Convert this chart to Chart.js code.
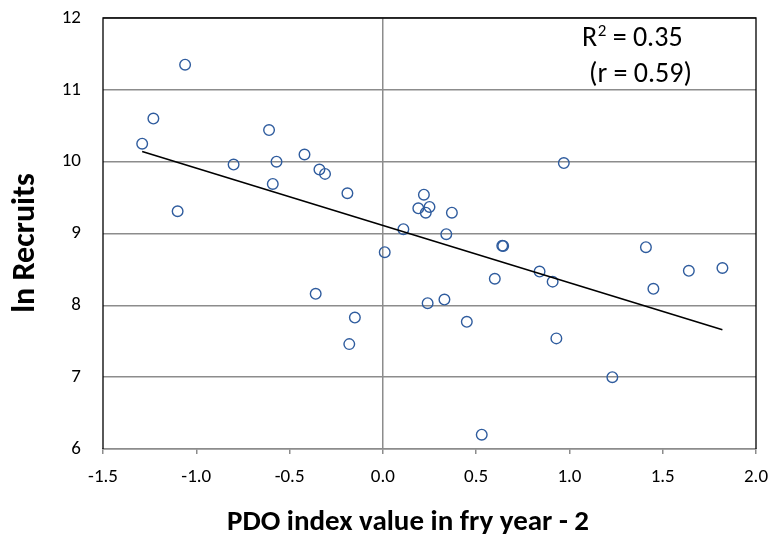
<!DOCTYPE html>
<html>
<head>
<meta charset="utf-8">
<script src="https://cdn.jsdelivr.net/npm/chart.js@4.4.0/dist/chart.umd.min.js"></script>
<style>
  body { margin: 0; background: #fff; }
  #wrap { width: 770px; height: 537px; }
</style>
</head>
<body>
<div id="wrap"><canvas id="pdoChart" width="770" height="537"></canvas></div>
<script>
// PDO index (fry year - 2) vs ln recruits
const pdoX = [-1.06, -1.23, -1.29, -0.61, -0.80, -0.57, -0.42, -0.34, -0.31, -0.59,
  -0.19, -1.10, 0.97, 0.22, 0.19, 0.25, 0.23, 0.37, 0.11, 0.34,
  0.01, -0.36, -0.15, -0.18, 0.64, 0.645, 1.41, 1.64, 1.82, 0.84,
  0.91, 0.60, 1.45, 0.24, 0.33, 0.45, 0.93, 1.23, 0.53];
const lnRecruits = [11.35, 10.60, 10.25, 10.44, 9.96, 10.00, 10.10, 9.89, 9.83, 9.69,
  9.56, 9.31, 9.98, 9.54, 9.35, 9.37, 9.29, 9.29, 9.06, 8.99,
  8.74, 8.16, 7.83, 7.46, 8.83, 8.825, 8.81, 8.48, 8.52, 8.47,
  8.33, 8.37, 8.23, 8.03, 8.08, 7.77, 7.54, 7.00, 6.20];

// fitted trend line ends
const trendX = [-1.29, 1.82];
const trendY = [10.14, 7.66];

const xTitle = 'PDO index value in fry year - 2';
const yTitle = 'ln Recruits';
const rSquared = '0.35';
const rValue = '0.59';

const FONT = 'Carlito, Lato, "Open Sans", sans-serif';

// keep label overhang from shrinking the plot area
function noOverhang(scale) {
  scale.paddingTop = 0;
  scale.paddingBottom = 0;
  scale.paddingLeft = 0;
  scale.paddingRight = 0;
}

// frame + axis titles + R² note
const decorations = {
  id: 'decorations',
  afterDraw(chart) {
    const { ctx, chartArea: a } = chart;
    ctx.save();
    ctx.strokeStyle = '#000';
    ctx.lineWidth = 1.3;
    ctx.beginPath();
    ctx.moveTo(a.left, a.bottom);
    ctx.lineTo(a.left, a.top);
    ctx.lineTo(a.right, a.top);
    ctx.lineTo(a.right, a.bottom);
    ctx.stroke();

    ctx.fillStyle = '#000';
    ctx.textBaseline = 'alphabetic';
    ctx.textAlign = 'center';
    ctx.font = 'bold 29px ' + FONT;
    ctx.fillText(xTitle, 408, 530);

    ctx.save();
    ctx.translate(34, 243);
    ctx.rotate(-Math.PI / 2);
    ctx.font = 'bold 32px ' + FONT;
    ctx.fillText(yTitle, 0, 0);
    ctx.restore();

    // R² = ..
    ctx.textAlign = 'left';
    ctx.font = '28px ' + FONT;
    let x = 582;
    ctx.fillText('R', x, 46);
    x += ctx.measureText('R').width;
    ctx.font = '17px ' + FONT;
    ctx.fillText('2', x + 0.5, 36);
    x += ctx.measureText('2').width + 0.5;
    ctx.font = '28px ' + FONT;
    ctx.fillText(' = ' + rSquared, x, 46);
    ctx.fillText('(r = ' + rValue + ')', 589, 82);
    ctx.restore();
  }
};

new Chart(document.getElementById('pdoChart'), {
  type: 'scatter',
  data: {
    datasets: [
      {
        label: 'Years',
        data: pdoX.map((v, i) => ({ x: v, y: lnRecruits[i] })),
        pointStyle: 'circle',
        pointRadius: 5.3,
        pointBorderWidth: 1.4,
        pointBorderColor: '#2F5C9E',
        pointBackgroundColor: 'rgba(0,0,0,0)',
        order: 2
      },
      {
        label: 'Trend',
        type: 'line',
        data: trendX.map((v, i) => ({ x: v, y: trendY[i] })),
        borderColor: '#000',
        borderWidth: 1.6,
        pointRadius: 0,
        fill: false,
        order: 1
      }
    ]
  },
  options: {
    responsive: false,
    animation: false,
    layout: { padding: { top: 18, right: 14, left: 0, bottom: 0 } },
    plugins: {
      legend: { display: false },
      tooltip: { enabled: false }
    },
    scales: {
      x: {
        type: 'linear',
        min: -1.5,
        max: 2.0,
        afterFit(scale) { scale.height = 88; noOverhang(scale); },
        ticks: {
          stepSize: 0.5,
          color: '#000',
          padding: 12,
          font: { family: FONT, size: 19 },
          callback: v => v.toFixed(1)
        },
        grid: {
          color: c => (c.tick && c.tick.value === 0) ? '#8C8C8C' : 'rgba(0,0,0,0)',
          lineWidth: 1.5,
          tickColor: '#8C8C8C',
          tickLength: 5
        },
        border: { display: true, color: '#8C8C8C', width: 1.5 }
      },
      y: {
        type: 'linear',
        min: 6,
        max: 12,
        afterFit(scale) { scale.width = 103; noOverhang(scale); },
        ticks: {
          stepSize: 1,
          color: '#000',
          padding: 22,
          font: { family: FONT, size: 19 }
        },
        grid: {
          color: '#8C8C8C',
          lineWidth: 1.5,
          drawTicks: false
        },
        border: { display: false }
      }
    }
  },
  plugins: [decorations]
});
</script>
</body>
</html>
